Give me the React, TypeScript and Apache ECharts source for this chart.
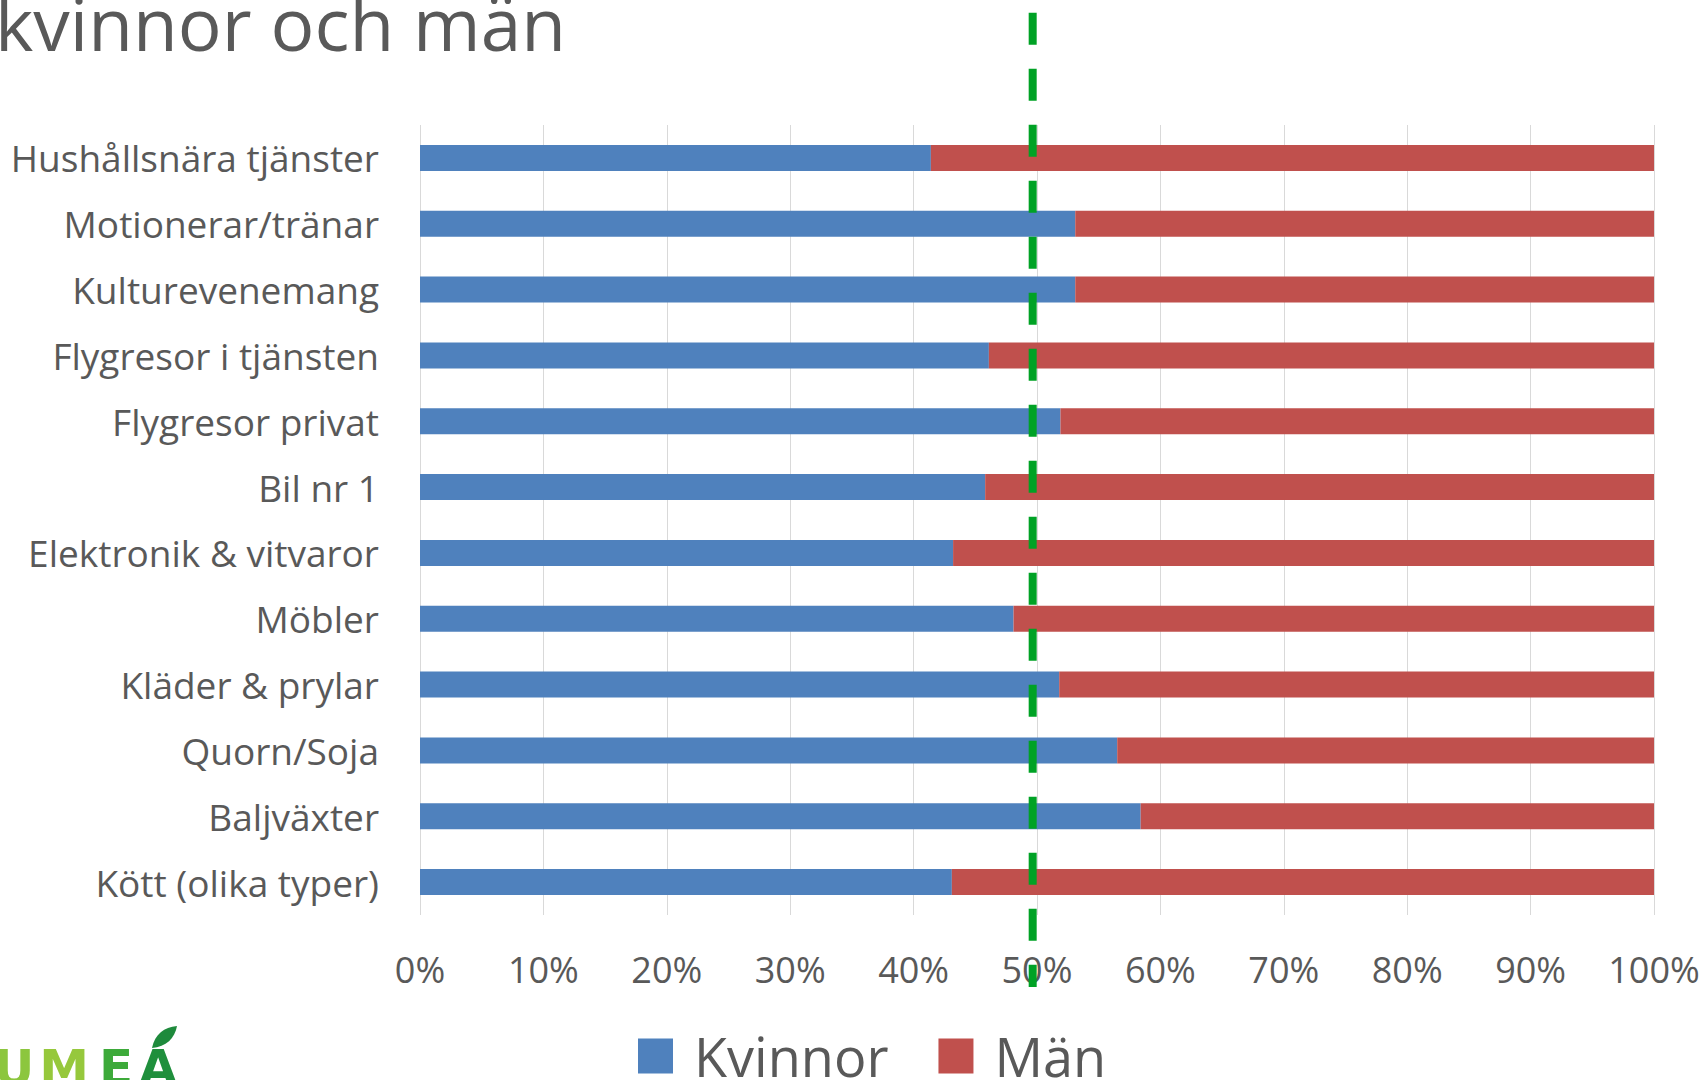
import React, { useEffect, useRef } from "react";
import * as echarts from "echarts";

const categories = [
  "Hushållsnära tjänster",
  "Motionerar/tränar",
  "Kulturevenemang",
  "Flygresor i tjänsten",
  "Flygresor privat",
  "Bil nr 1",
  "Elektronik & vitvaror",
  "Möbler",
  "Kläder & prylar",
  "Quorn/Soja",
  "Baljväxter",
  "Kött (olika typer)",
];
const kvinnor = [41.4, 53.1, 53.1, 46.1, 51.9, 45.8, 43.2, 48.1, 51.8, 56.5, 58.4, 43.1];
const man = [58.6, 46.9, 46.9, 53.9, 48.1, 54.2, 56.8, 51.9, 48.2, 43.5, 41.6, 56.9];
const seriesNames = ["Kvinnor", "Män"];
const titleText = "kvinnor och män";
const referenceValue = 49.65;

const FONT = "'Open Sans', 'Noto Sans', sans-serif";
const GRAY = "#595959";

let leafRegistered = false;
function ensureLeaf() {
  if (leafRegistered) return;
  echarts.graphic.registerShape(
    "leaf",
    echarts.graphic.extendPath("M0 22 C 3 8 12 1 25 0 C 23 12 14 21 0 22 Z", {}) as any
  );
  leafRegistered = true;
}

export default function App() {
  const ref = useRef<HTMLDivElement>(null);
  useEffect(() => {
    if (!ref.current) return;
    ensureLeaf();
    const chart = echarts.init(ref.current, null, { renderer: "svg" });
    const option: any = {
      animation: false,
      backgroundColor: "#ffffff",
      grid: { left: 420, right: 53, top: 125, bottom: 165, containLabel: false },
      legend: {
        data: seriesNames,
        left: 638,
        top: 1029,
        padding: 0,
        itemWidth: 35,
        itemHeight: 35,
        itemGap: 50,
        icon: "rect",
        textStyle: {
          fontFamily: FONT,
          fontSize: 54,
          color: GRAY,
          lineHeight: 35,
          padding: [0, 0, 12, 16],
        },
      },
      xAxis: {
        type: "value",
        min: 0,
        max: 100,
        interval: 10,
        axisLine: { show: false },
        axisTick: { show: false },
        splitLine: { show: true, lineStyle: { color: "#D9D9D9", width: 1 } },
        axisLabel: {
          formatter: "{value}%",
          fontFamily: FONT,
          fontSize: 36,
          color: GRAY,
          margin: 36,
        },
      },
      yAxis: {
        type: "category",
        inverse: true,
        data: categories,
        axisLine: { show: false },
        axisTick: { show: false },
        splitLine: { show: false },
        axisLabel: { fontFamily: FONT, fontSize: 37, color: GRAY, margin: 41, padding: [3, 0, 0, 0] },
      },
      series: [
        {
          name: seriesNames[0],
          type: "bar",
          stack: "total",
          data: kvinnor,
          barWidth: 26,
          itemStyle: { color: "#4F81BD" },
        },
        {
          name: seriesNames[1],
          type: "bar",
          stack: "total",
          data: man,
          barWidth: 26,
          itemStyle: { color: "#C0504D" },
        },
      ],
    };
    chart.setOption(option);
    const lx = chart.convertToPixel({ xAxisIndex: 0 } as any, referenceValue) as number;
    const logoFont = "bold 50px 'DejaVu Sans'";
    chart.setOption({
      graphic: [
        {
          type: "line",
          z: 100,
          shape: { x1: lx, y1: 12.7, x2: lx, y2: 987 },
          style: { stroke: "#00A225", lineWidth: 8, lineDash: [32, 24] },
        },
        {
          type: "text",
          x: -5,
          y: 22.4,
          style: {
            text: titleText,
            font: `73px ${FONT}`,
            fill: GRAY,
            textAlign: "left",
            textVerticalAlign: "middle",
          },
        },
        {
          type: "group",
          children: [
            { type: "text", x: 14, y: 1068, style: { text: "U", font: logoFont, fill: "#8CC63E", textAlign: "center", textVerticalAlign: "middle" } },
            { type: "text", x: 64, y: 1068, style: { text: "M", font: logoFont, fill: "#96C83C", textAlign: "center", textVerticalAlign: "middle" } },
            { type: "text", x: 116, y: 1068, style: { text: "E", font: logoFont, fill: "#3DAA3A", textAlign: "center", textVerticalAlign: "middle" } },
            { type: "text", x: 158, y: 1068, style: { text: "A", font: logoFont, fill: "#1F8F3C", textAlign: "center", textVerticalAlign: "middle" } },
            { type: "leaf", x: 152, y: 1026, shape: {}, style: { fill: "#1E8A3C" } },
          ],
        },
      ],
    });
    return () => chart.dispose();
  }, []);
  return (
    <div
      ref={ref}
      style={{ position: "fixed", left: 0, top: 0, width: 1707, height: 1080, background: "#fff" }}
    />
  );
}
